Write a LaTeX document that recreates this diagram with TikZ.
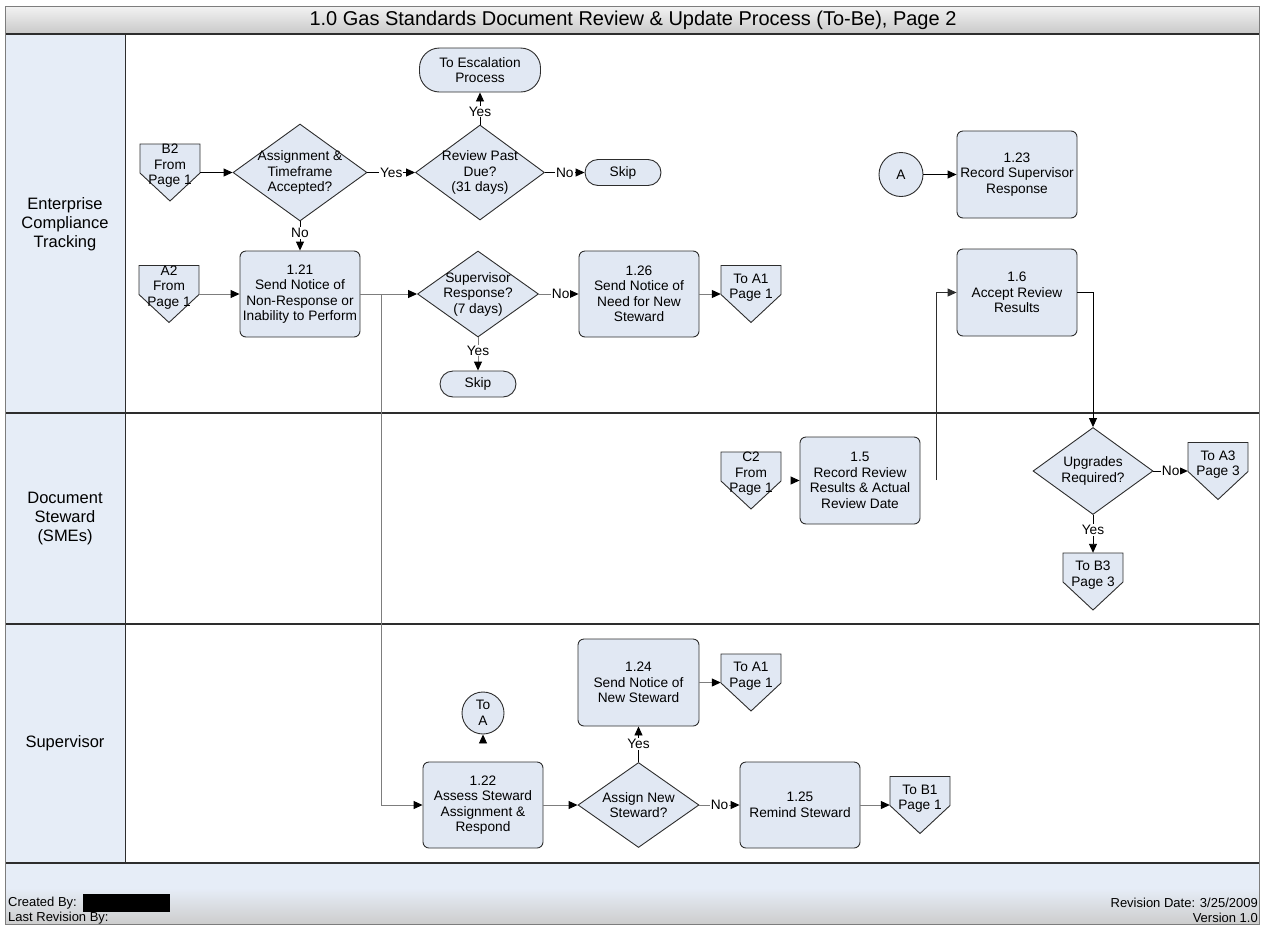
\documentclass[tikz,border=0pt]{standalone}
\usepackage{fontspec}
\setmainfont{Liberation Sans}
\usetikzlibrary{arrows.meta,shapes.geometric,calc}
\definecolor{nodefill}{RGB}{225,232,243}
\definecolor{lanefill}{RGB}{230,237,247}
\definecolor{linec}{RGB}{45,45,45}
\definecolor{greyc}{RGB}{125,125,125}
\definecolor{titletop}{RGB}{243,243,243}
\definecolor{titlebot}{RGB}{200,200,200}
\definecolor{footgrey}{RGB}{205,205,205}
\newcommand\nodefnt{\fontsize{13.7}{15.5}\selectfont}
\newcommand\offpage[4]{%
  \path[offshape] (#2-30,#3) -- (#2+30,#3) -- (#2+30,#3+29) -- (#2,#3+57) -- (#2-30,#3+29) -- cycle;
  \node[offbox] (#1) at (#2,#3+28.5) {};
  \node[offtxt] (#1-t) at (#2,#3+22) {#4};
}
\begin{document}
\begin{tikzpicture}[x=1pt,y=-1pt,
 proc/.style={draw=linec, fill=nodefill, line width=0.9pt, rounded corners=6pt, minimum width=120pt, minimum height=86pt, align=center, font=\nodefnt, inner sep=2pt},
 dec/.style={diamond, draw=linec, fill=nodefill, line width=0.9pt, inner sep=-10pt, align=center, font=\nodefnt},
 term/.style={draw=linec, fill=nodefill, line width=0.9pt, rounded corners=13pt, minimum width=76pt, minimum height=26pt, align=center, font=\nodefnt, inner sep=1pt},
 conn/.style={circle, draw=linec, fill=nodefill, line width=0.9pt, minimum size=44pt, inner sep=0pt, align=center, font=\nodefnt},
 offbox/.style={minimum width=60pt, minimum height=57pt, inner sep=0pt, draw=none},
 offtxt/.style={align=center, font=\nodefnt, inner sep=0pt},
 offshape/.style={draw=linec, fill=nodefill, line width=0.9pt},
 arr/.style={draw=black, line width=0.9pt, -{Triangle[length=9pt,width=8pt]}},
 garr/.style={draw=greyc, line width=1pt, -{Triangle[length=9pt,width=8pt,color=black]}},
 lbl/.style={fill=white, font=\nodefnt, inner sep=1pt},
 lanelbl/.style={font=\fontsize{16.5}{19}\selectfont, align=center},
 foot/.style={font=\fontsize{13}{15}\selectfont, inner sep=0pt},
]
\useasboundingbox (0,0) rectangle (1263,927);
% ---------- frame, title, lanes ----------
\shade[top color=titletop, bottom color=titlebot] (5,6) rectangle (1259,34);
\node[font=\fontsize{20}{24}\selectfont] (title) at (633,20) {1.0 Gas Standards Document Review \& Update Process (To-Be), Page 2};
\fill[lanefill] (5,34) rectangle (125,863);
\fill[lanefill] (5,863) rectangle (1259,888);
\shade[top color=lanefill, bottom color=footgrey] (5,888) rectangle (1259,924);
\draw[linec, line width=1.6pt] (5,34) -- (1259,34);
\draw[linec, line width=1.6pt] (5,413) -- (1259,413);
\draw[linec, line width=1.6pt] (5,624) -- (1259,624);
\draw[linec, line width=1.6pt] (5,863) -- (1259,863);
\draw[linec, line width=0.9pt] (125,34) -- (125,863);
\draw[greyc, line width=1pt] (5,6) rectangle (1259,924);
\node[lanelbl] (lane1) at (65,224) {Enterprise\\Compliance\\Tracking};
\node[lanelbl] (lane2) at (65,519) {Document\\Steward\\(SMEs)};
\node[lanelbl] (lane3) at (65,743) {Supervisor};
% ---------- footer ----------
\node[foot, anchor=west] (cb) at (8,903) {Created By:};
\node[fill=black, minimum width=87pt, minimum height=18pt, inner sep=0pt, anchor=north west] (redact) at (83,894) {};
\node[foot, anchor=west] (lrb) at (8,918) {Last Revision By:};
\node[foot, anchor=east] (rd) at (1258,903) {Revision Date: 3/25/2009};
\node[foot, anchor=east] (ver) at (1258,918) {Version 1.0};
% ---------- lane 1 ----------
\node[term, rounded corners=20pt, minimum width=121pt, minimum height=44pt] (esc) at (480,70) {To Escalation\\Process};
\offpage{B2}{170}{144}{B2\\From\\Page 1}
\node[dec, minimum width=134pt, minimum height=97pt] (asg) at (300,172.5) {Assignment \&\\Timeframe\\Accepted?};
\node[dec, minimum width=129pt, minimum height=95pt] (rpd) at (480,172.5) {Review Past\\Due?\\(31 days)};
\node[term] (skip1) at (623,172.5) {Skip};
\offpage{A2}{169}{265.5}{A2\\From\\Page 1}
\node[proc] (p121) at (300,294) {1.21\\Send Notice of\\Non-Response or\\Inability to Perform};
\node[dec, minimum width=121pt, minimum height=86pt] (sup) at (478,294) {Supervisor\\Response?\\(7 days)};
\node[term] (skip2) at (478,384) {Skip};
\node[proc] (p126) at (639,294) {1.26\\Send Notice of\\Need for New\\Steward};
\offpage{ToA1a}{751}{265.5}{To A1\\Page 1}
\node[conn] (Acirc) at (901,174.5) {A};
\node[proc, minimum height=87pt] (p123) at (1017,174.5) {1.23\\Record Supervisor\\Response};
\node[proc, minimum height=87pt] (p16) at (1017,292.5) {1.6\\Accept Review\\Results};
% ---------- lane 2 ----------
\offpage{C2}{751}{452}{C2\\From\\Page 1}
\node[proc, minimum height=87pt] (p15) at (860,480.5) {1.5\\Record Review\\Results \& Actual\\Review Date};
\node[dec, minimum width=120pt, minimum height=87pt] (upg) at (1093,471) {Upgrades\\Required?};
\offpage{ToA3}{1218}{442.5}{To A3\\Page 3}
\offpage{ToB3}{1093}{553}{To B3\\Page 3}
% ---------- lane 3 ----------
\node[conn, minimum size=42pt] (toA) at (483,713) {To\\A};
\node[proc] (p122) at (483,805) {1.22\\Assess Steward\\Assignment \&\\Respond};
\node[dec, minimum width=121pt, minimum height=85pt] (ans) at (638.5,805) {Assign New\\Steward?};
\node[proc, minimum width=121pt, minimum height=87pt] (p124) at (638.5,682.5) {1.24\\Send Notice of\\New Steward};
\offpage{ToA1b}{751}{654}{To A1\\Page 1}
\node[proc] (p125) at (800,805) {1.25\\Remind Steward};
\offpage{ToB1}{920}{776.5}{To B1\\Page 1}
% ---------- connectors ----------
\draw[arr] (B2) -- (asg);
\draw[arr] (asg) -- node[lbl] (l1) {Yes} (rpd);
\draw[arr] (rpd) -- node[lbl] (l2) {No} (skip1);
\draw[arr] (rpd) -- node[lbl, pos=0.4] (l3) {Yes} (esc);
\draw[arr] (asg) -- node[lbl, pos=0.4] (l4) {No} (p121);
\draw[garr] (A2) -- (p121);
\draw[garr] (p121) -- (sup);
\coordinate (br) at (381,294);
\draw[garr] (br) |- (p122);
\draw[garr] (sup) -- node[lbl, pos=0.55] (l5) {No} (p126);
\draw[garr] (sup) -- node[lbl, pos=0.4] (l6) {Yes} (skip2);
\draw[garr] (p126) -- (ToA1a);
\draw[arr] (Acirc) -- (p123);
\coordinate (c15) at (936,480);
\draw[arr, draw=linec] (c15) |- (p16);
\draw[arr] (p16) -| (upg);
\draw[arr] (upg) -- node[lbl] (l7) {No} (ToA3);
\draw[arr] (upg) -- node[lbl, pos=0.4] (l8) {Yes} (ToB3);
\draw[arr, shorten <=10pt] (C2) -- (p15);
\draw[arr, shorten <=20pt] (p122) -- (toA);
\draw[garr] (p122) -- (ans);
\draw[arr] (ans) -- node[lbl] (l9) {Yes} (p124);
\draw[garr] (ans) -- node[lbl] (l10) {No} (p125);
\draw[garr] (p124) -- (ToA1b);
\draw[garr] (p125) -- (ToB1);
\end{tikzpicture}
\end{document}
